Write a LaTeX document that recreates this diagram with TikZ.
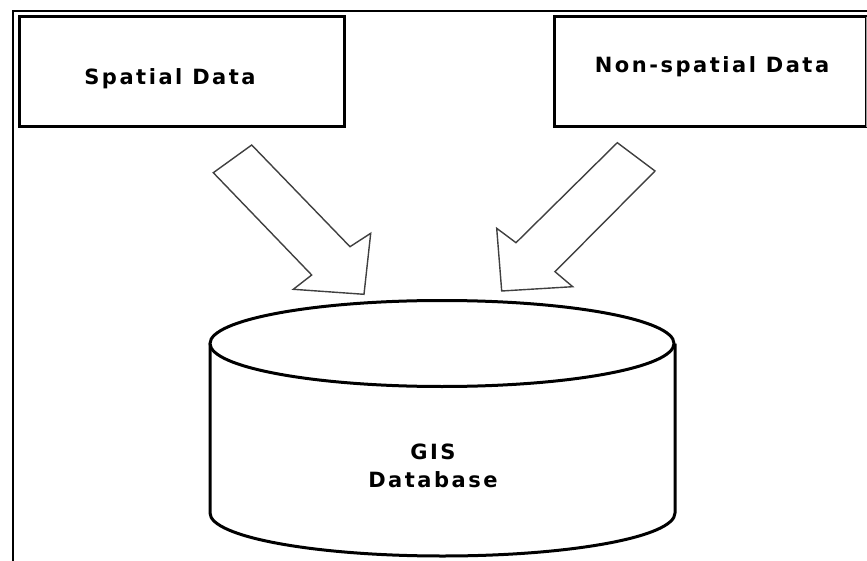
\documentclass[tikz,border=0pt]{standalone}
\usepackage{fontspec}
\newfontfamily\lblfont[LetterSpace=12]{DejaVu Sans}
\begin{document}
\begin{tikzpicture}[x=1pt,y=-1pt,
  box/.style={draw=black,line width=3pt,fill=white},
  lbl/.style={font=\lblfont\bfseries\fontsize{21}{28}\selectfont,align=center,inner sep=0pt},
  blockarrow/.style={draw=black!75,line width=1.4pt,fill=white,line join=miter},
  frameline/.style={draw=black,line width=2pt},
  cyl/.style={draw=black,line width=3pt,fill=white}]
\useasboundingbox (0,0) rectangle (867,561);
% frame
\coordinate (f1) at (13,561);
\coordinate (f2) at (13,11);
\coordinate (f3) at (867,11);
\draw[frameline] (f1) -- (f2) -- (f3);
% boxes
\draw[box] (19,17) rectangle (344,127);
\node[lbl] (spatial) at (170,79) {Spatial Data};
\draw[box] (554,17) rectangle (866,127);
\draw[draw=black!40,line width=1pt] (866,17) -- (866,127);
\node[lbl] (nonspatial) at (712,67) {Non-spatial Data};
% block arrows
\draw[blockarrow] (251.7,145) -- (213.3,172.7) -- (311.7,275) -- (293.3,289.3)
  -- (364,294.3) -- (370.7,233.3) -- (350,246.7) -- cycle;
\draw[blockarrow] (617.3,142.7) -- (655,171) -- (555,271.7) -- (572.7,286.7)
  -- (501.7,291) -- (496.7,228.3) -- (516,242.7) -- cycle;
% cylinder
\draw[cyl] (210,343.5) -- (210,513) arc[start angle=180,end angle=0,x radius=232.5,y radius=43] -- (675,343.5);
\draw[cyl] (442,343.5) ellipse[x radius=232,y radius=43];
\node[lbl] (gis) at (433,466) {GIS\\Database};
\end{tikzpicture}
\end{document}
